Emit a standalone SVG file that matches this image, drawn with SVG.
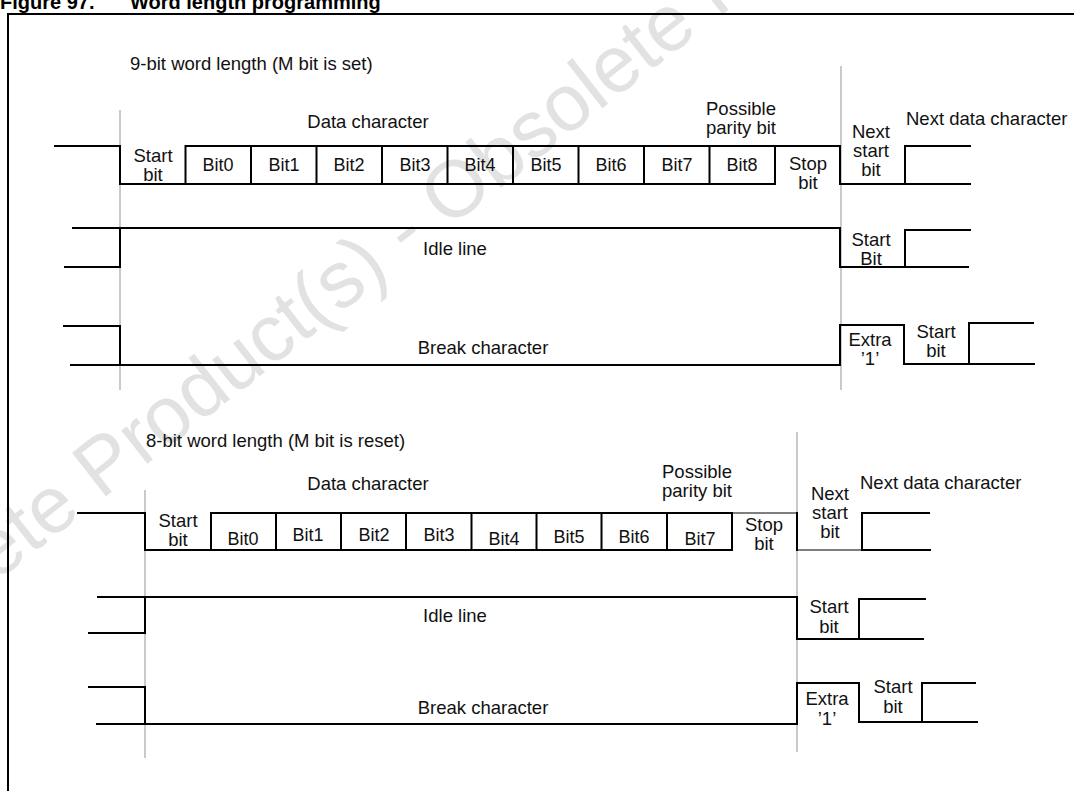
<svg xmlns="http://www.w3.org/2000/svg" width="1074" height="791" viewBox="0 0 1074 791">
<style>
.t{font-family:"Liberation Sans",Arial,Helvetica,sans-serif;font-size:18.5px;fill:#111}
.b{font-size:18px}
.c{text-anchor:middle}
.w{fill:none;stroke:#000;stroke-width:2;stroke-linecap:square}
.thin{fill:none;stroke:#000;stroke-width:1.2}
.g{stroke:#b8b8b8;stroke-width:1.5}
.wm{font-family:"Liberation Sans",Arial,sans-serif;font-size:80px;fill:#e2e2e2}
.title{font-family:"Liberation Sans",Arial,sans-serif;font-size:20px;font-weight:bold;fill:#000}
</style>
<rect width="1074" height="791" fill="#fff"/>
<g id="watermark"><text class="wm" x="-169" y="711" transform="rotate(-38 -169 711)">Obsolete Product(s) - Obsolete Product(s)</text></g>
<g id="title"><text class="title" x="0" y="9">Figure 97.<tspan x="130">Word length programming</tspan></text></g>
<g id="frame"><path class="w" d="M8,800 V14 H1080"/></g>

<g id="guides">
<line class="g" x1="120" y1="110" x2="120" y2="390"/>
<line class="g" x1="841" y1="66" x2="841" y2="390"/>
<line class="g" x1="145" y1="490" x2="145" y2="758"/>
<line class="g" x1="797" y1="432" x2="797" y2="752"/>
</g>

<g id="section-9bit">
<text class="t" x="130" y="70">9-bit word length (M bit is set)</text>
<g id="row-data-9">
<path class="w" d="M55,146 H120 V184 H185.5 V146 H840 V184 H905 V146 H970 M185.5,184 H775 M905,184 H970 M251,146 V184 M316.5,146 V184 M382,146 V184 M447.5,146 V184 M513,146 V184 M578.5,146 V184 M644,146 V184 M709.5,146 V184 M775,146 V184"/>
<text class="t c" x="368" y="128">Data character</text>
<text class="t c" x="741" y="115">Possible</text>
<text class="t c" x="741" y="134">parity bit</text>
<text class="t c" x="153" y="162">Start</text>
<text class="t c" x="153" y="181">bit</text>
<text class="t b c" x="218" y="171">Bit0</text>
<text class="t b c" x="284" y="171">Bit1</text>
<text class="t b c" x="349" y="171">Bit2</text>
<text class="t b c" x="415" y="171">Bit3</text>
<text class="t b c" x="480" y="171">Bit4</text>
<text class="t b c" x="546" y="171">Bit5</text>
<text class="t b c" x="611" y="171">Bit6</text>
<text class="t b c" x="677" y="171">Bit7</text>
<text class="t b c" x="742" y="171">Bit8</text>
<text class="t c" x="808" y="170">Stop</text>
<text class="t c" x="808" y="189">bit</text>
<text class="t c" x="871" y="138">Next</text>
<text class="t c" x="871" y="157">start</text>
<text class="t c" x="871" y="176">bit</text>
<text class="t" x="906" y="125">Next data character</text>
</g>
<g id="row-idle-9">
<path class="w" d="M73,228 H840 V267 H905 V230 H970 M65,267 H120 V228 M905,267 H968"/>
<text class="t c" x="455" y="255">Idle line</text>
<text class="t c" x="871" y="246">Start</text>
<text class="t c" x="871" y="265">Bit</text>
</g>
<g id="row-break-9">
<path class="w" d="M64,326 H120 V365 M71,365 H840 V325 H904 V364 H969 V323 H1033 M969,364 H1034"/>
<text class="t c" x="483" y="354">Break character</text>
<text class="t c" x="870" y="346">Extra</text>
<text class="t c" x="870" y="365">’1’</text>
<text class="t c" x="936" y="338">Start</text>
<text class="t c" x="936" y="357">bit</text>
</g>
</g>

<g id="section-8bit">
<text class="t" x="146" y="447">8-bit word length (M bit is reset)</text>
<g id="row-data-8">
<path class="w" d="M78,513 H145 V550 H211 V513 H732 M211,550 H732 M276,513 V550 M341,513 V550 M406,513 V550 M471.5,513 V550 M536.5,513 V550 M601.5,513 V550 M667,513 V550 M732,513 V550 M797,513 V550 M862,550 V513 H929 M862,550 H930"/>
<path class="thin" d="M732,513 H797 M797,550 H862"/>
<text class="t c" x="368" y="490">Data character</text>
<text class="t c" x="697" y="478">Possible</text>
<text class="t c" x="697" y="497">parity bit</text>
<text class="t c" x="178" y="527">Start</text>
<text class="t c" x="178" y="546">bit</text>
<text class="t b c" x="243" y="545">Bit0</text>
<text class="t b c" x="308" y="541">Bit1</text>
<text class="t b c" x="374" y="541">Bit2</text>
<text class="t b c" x="439" y="541">Bit3</text>
<text class="t b c" x="504" y="545">Bit4</text>
<text class="t b c" x="569" y="543">Bit5</text>
<text class="t b c" x="634" y="543">Bit6</text>
<text class="t b c" x="700" y="545">Bit7</text>
<text class="t c" x="764" y="531">Stop</text>
<text class="t c" x="764" y="550">bit</text>
<text class="t c" x="830" y="500">Next</text>
<text class="t c" x="830" y="519">start</text>
<text class="t c" x="830" y="538">bit</text>
<text class="t" x="860" y="489">Next data character</text>
</g>
<g id="row-idle-8">
<path class="w" d="M98,597 H797 V639 H859 V599 H925 M89,633 H145 V597 M859,639 H923"/>
<text class="t c" x="455" y="622">Idle line</text>
<text class="t c" x="829" y="613">Start</text>
<text class="t c" x="829" y="633">bit</text>
</g>
<g id="row-break-8">
<path class="w" d="M89,687 H145 V724 M97,724 H797 V683 H859 V722 H922 V683 H975 M922,722 H977"/>
<text class="t c" x="483" y="714">Break character</text>
<text class="t c" x="827" y="705">Extra</text>
<text class="t c" x="827" y="725">’1’</text>
<text class="t c" x="893" y="693">Start</text>
<text class="t c" x="893" y="713">bit</text>
</g>
</g>
</svg>
